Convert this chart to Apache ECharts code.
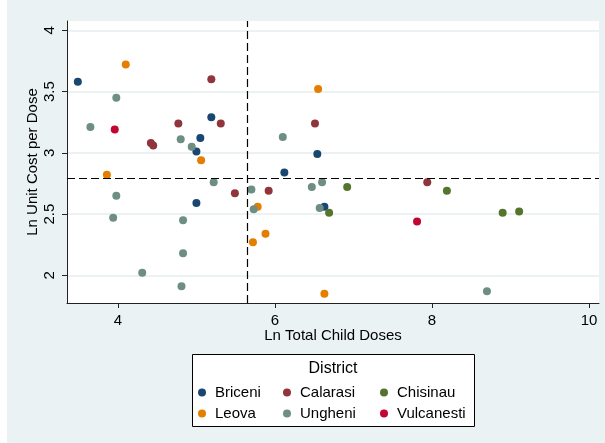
<!DOCTYPE html>
<html><head><meta charset="utf-8">
<script src="https://cdn.jsdelivr.net/npm/echarts@6/dist/echarts.min.js"></script>
<style>html,body{margin:0;padding:0;background:#EAF2F3;} #c{width:605px;height:443px;}</style>
</head><body><div id="c"></div>
<script>
const districts = ['Briceni', 'Calarasi', 'Chisinau', 'Leova', 'Ungheni', 'Vulcanesti'];
const districtColors = ['#1A476F', '#90353B', '#55752F', '#E37E00', '#6E8E84', '#C10534'];

const briceni = [[3.49,3.58],[5.19,3.29],[5.05,3.12],[5.00,3.01],[5.00,2.59],[6.54,2.99],[6.12,2.84],[6.63,2.56]];
const calarasi = [[5.19,3.60],[5.31,3.24],[4.77,3.24],[4.42,3.08],[4.45,3.06],[5.49,2.67],[6.51,3.24],[5.92,2.69],[7.94,2.76]];
const chisinau = [[6.92,2.72],[8.19,2.69],[6.69,2.51],[8.90,2.51],[9.11,2.52]];
const leova = [[4.10,3.72],[5.06,2.94],[3.86,2.82],[5.78,2.56],[5.72,2.27],[6.55,3.52],[5.88,2.34],[6.63,1.85]];
const ungheni = [[3.98,3.45],[3.65,3.21],[4.80,3.11],[4.94,3.05],[5.22,2.76],[3.98,2.65],[5.70,2.70],[5.73,2.54],[3.94,2.47],[4.83,2.45],[4.83,2.18],[4.31,2.02],[4.81,1.91],[6.10,3.13],[6.47,2.72],[6.60,2.76],[6.57,2.55],[8.70,1.87]];
const vulcanesti = [[3.96,3.19],[7.81,2.44]];
const seriesData = [briceni, calarasi, chisinau, leova, ungheni, vulcanesti];

const xTicks = [4, 6, 8, 10];
const yTicks = [2, 2.5, 3, 3.5, 4];
const meanX = 5.65;
const meanY = 2.79;

const FONT = 'Liberation Sans, Arial, sans-serif';
const chart = echarts.init(document.getElementById('c'), null, {renderer: 'canvas'});

const series = [{
  type: 'scatter', name: 'means', data: [], z: 1, silent: true,
  markLine: {
    silent: true, symbol: 'none', animation: false,
    label: {show: false},
    lineStyle: {color: '#000', width: 1.2, type: [8, 4]},
    data: [{xAxis: meanX}, {yAxis: meanY}]
  }
}];
districts.forEach((d, i) => {
  series.push({
    type: 'scatter', name: d, data: seriesData[i], z: 3,
    symbol: 'circle', symbolSize: 8,
    itemStyle: {color: districtColors[i], opacity: 1},
    emphasis: {disabled: true}
  });
});

const legendCols = [['Briceni', 'Leova'], ['Calarasi', 'Ungheni'], ['Chisinau', 'Vulcanesti']];
const legendLeft = [198, 283, 380];
const legends = legendCols.map((cols, i) => ({
  orient: 'vertical', left: legendLeft[i], top: 385, padding: 0,
  data: cols, icon: 'circle', itemWidth: 8, itemHeight: 8, itemGap: 6,
  selectedMode: false,
  textStyle: {fontFamily: FONT, fontSize: 15, color: '#000', padding: [0, 0, 0, 4], lineHeight: 14}
}));

chart.setOption({
  animation: false,
  backgroundColor: '#EAF2F3',
  grid: {left: 67, right: 6, top: 21, bottom: 140, containLabel: false},
  graphic: [
    {type: 'rect', shape: {x: 0, y: 0, width: 7, height: 443}, style: {fill: '#fff'}, silent: true, z: -10},
    {type: 'rect', shape: {x: 67, y: 21, width: 532, height: 282}, style: {fill: '#fff'}, silent: true, z: -10},
    {type: 'rect', shape: {x: 192.5, y: 354.5, width: 282, height: 72}, style: {fill: '#fff', stroke: '#000', lineWidth: 1}, silent: true, z: -5},
    {type: 'text', x: 333, y: 369, style: {text: 'District', font: '16px ' + FONT, fill: '#000', textAlign: 'center', textVerticalAlign: 'middle'}, silent: true, z: 10}
  ],
  xAxis: {
    type: 'value', min: 3.352, max: 10.127,
    name: 'Ln Total Child Doses', nameLocation: 'middle', nameGap: 25, nameMoveOverlap: false,
    nameTextStyle: {fontFamily: FONT, fontSize: 15, color: '#000'},
    axisLine: {show: true, lineStyle: {color: '#222', width: 1}},
    axisTick: {show: true, length: 5, lineStyle: {color: '#222'}, customValues: xTicks},
    axisLabel: {fontFamily: FONT, fontSize: 15, color: '#000', margin: 10, customValues: xTicks},
    splitLine: {show: false}
  },
  yAxis: {
    type: 'value', min: 1.774, max: 4.076,
    name: 'Ln Unit Cost per Dose', nameLocation: 'middle', nameGap: 27, nameMoveOverlap: false,
    nameTextStyle: {fontFamily: FONT, fontSize: 15, color: '#000'},
    axisLine: {show: true, lineStyle: {color: '#222', width: 1}},
    axisTick: {show: true, length: 5, lineStyle: {color: '#222'}, customValues: yTicks},
    axisLabel: {fontFamily: FONT, fontSize: 15, color: '#000', margin: 10, rotate: 90, customValues: yTicks},
    splitLine: {show: true, lineStyle: {color: '#E6EEF0', width: 1.5}}
  },
  legend: legends,
  series: series
});
</script></body></html>
